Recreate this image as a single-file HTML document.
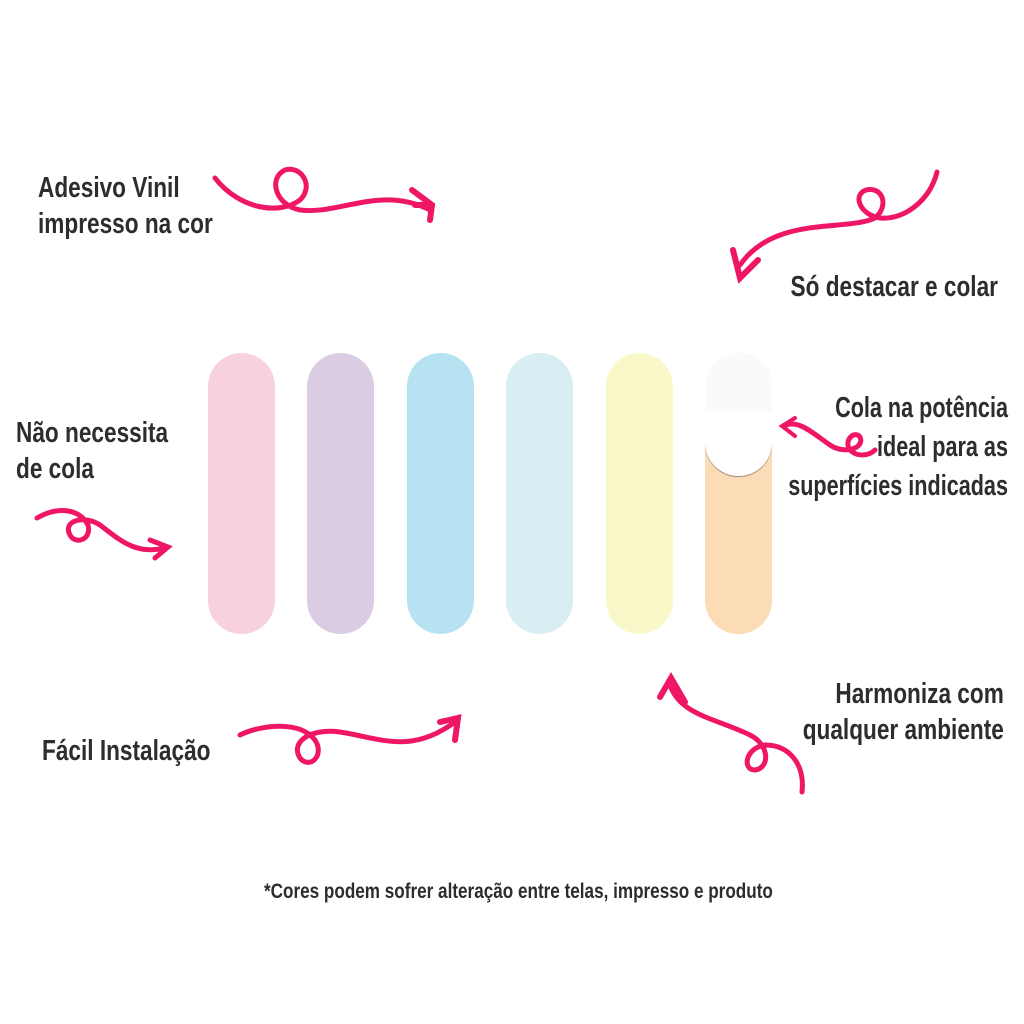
<!DOCTYPE html>
<html><head><meta charset="utf-8"><style>
html,body{margin:0;padding:0;background:#fff;width:1024px;height:1024px;overflow:hidden}
.t{position:absolute;font-family:"Liberation Sans",sans-serif;font-weight:bold;color:#2d2d2d;font-size:29px;line-height:36px;white-space:nowrap;transform:scaleX(0.78);transform-origin:left top}
.r{text-align:right;transform-origin:right top}
.p{position:absolute;top:353px;width:67px;height:281px;border-radius:34px}
</style></head><body>
<div class="t" style="left:38px;top:170px">Adesivo Vinil<br>impresso na cor</div>
<div class="t r" style="right:26px;top:269px">Só destacar e colar</div>
<div class="t" style="left:16px;top:415px">Não necessita<br>de cola</div>
<div class="t r" style="right:16px;top:389px;line-height:39px;transform:scaleX(0.745)">Cola na potência<br>ideal para as<br>superfícies indicadas</div>
<div class="t" style="left:42px;top:733px">Fácil Instalação</div>
<div class="t r" style="right:20px;top:676px">Harmoniza com<br>qualquer ambiente</div>
<div class="t" style="left:264px;top:874px;font-size:21px;transform:scaleX(0.815)">*Cores podem sofrer alteração entre telas, impresso e produto</div>

<div class="p" style="left:208px;background:#f7d2dd"></div>
<div class="p" style="left:307px;background:#d9cce3"></div>
<div class="p" style="left:407px;background:#b7e2f2"></div>
<div class="p" style="left:506px;background:#d9eef2"></div>
<div class="p" style="left:606px;background:#f9f8c8"></div>
<div class="p" style="left:705px;background:#fcdcb6;overflow:hidden">
  <div style="position:absolute;left:0;top:0;width:67px;height:58px;background:#fafafa"></div>
  <div style="position:absolute;left:0;top:58px;width:67px;height:65px;background:#fff;border-radius:0 0 34px 34px;box-shadow:0 1px 1px #9a8a7a"></div>
</div>

<svg width="1024" height="1024" style="position:absolute;left:0;top:0" fill="none" stroke="#ee1665" stroke-width="5" stroke-linecap="round">
<path d="M215 178 C240 210 280 215 300 200 C315 185 300 165 285 170 C268 178 275 205 300 210 C340 215 380 185 430 210"/>
<path d="M412 190 L432 205 L430 220 M432 205 L415 205" stroke-width="6"/>
<path d="M937 172 C930 200 905 220 880 218 C860 215 852 195 866 190 C882 186 890 205 875 218 C845 232 775 215 740 265"/>
<path d="M733 250 L740 278 L758 260" stroke-width="6"/>
<path d="M37 518 C60 505 80 510 88 525 C92 540 75 545 70 535 C62 520 85 515 100 525 C120 540 135 555 165 548"/>
<path d="M150 540 L168 547 L155 558" stroke-width="5"/>
<path d="M786 425 C800 420 815 435 830 445 C845 455 865 448 860 437 C855 430 843 440 850 450 C858 458 870 455 875 450"/>
<path d="M795 418 L782 426 L795 436" stroke-width="4"/>
<path d="M240 735 C260 725 300 720 315 740 C325 755 310 770 300 758 C290 742 310 728 340 732 C380 738 410 755 455 722"/>
<path d="M440 722 L458 718 L455 740" stroke-width="6"/>
<path d="M802 792 C805 765 790 745 765 745 C745 748 742 770 755 770 C770 768 770 745 750 735 C715 718 680 715 670 685"/>
<path d="M660 697 L671 678 L685 702" stroke-width="6"/>
</svg>
</body></html>
